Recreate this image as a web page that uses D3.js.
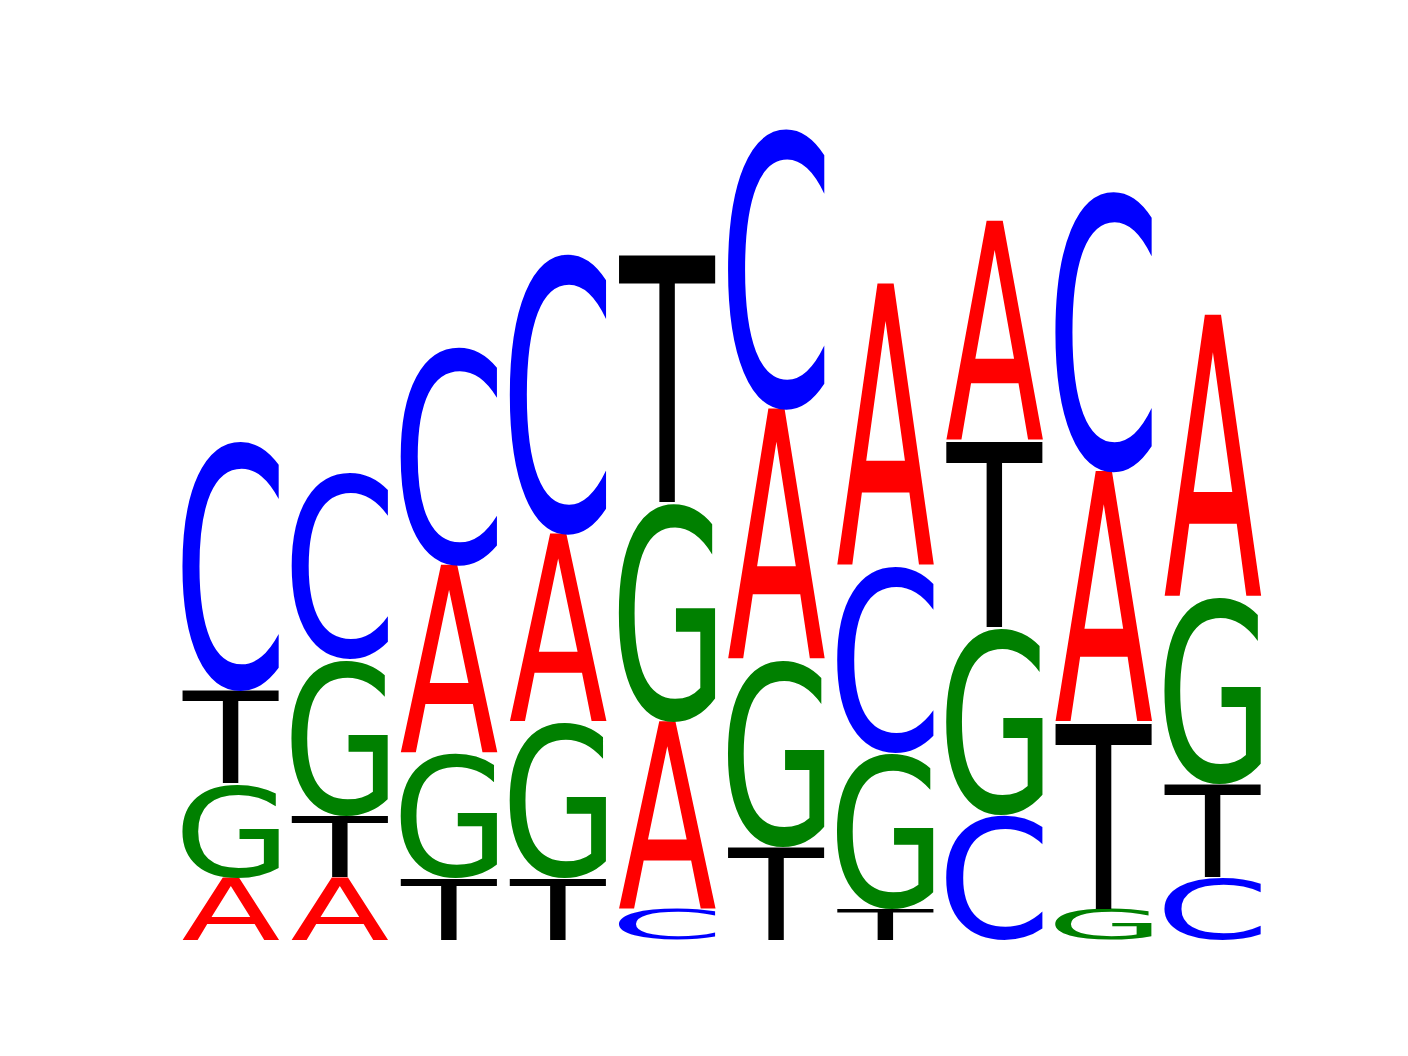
<!DOCTYPE html>
<html>
<head>
<meta charset="utf-8">
<script src="https://cdn.jsdelivr.net/npm/d3@7"></script>
<style>
  body { margin: 0; background: #fff; }
</style>
</head>
<body>
<div id="logo-container"></div>
<script>
// CONSTANTS
const WIDTH = 1408;
const HEIGHT = 1056;
const FONT = "DejaVu Sans";

// DATA (counts per position)
const positions = [1, 2, 3, 4, 5, 6, 7, 8, 9, 10];
const letters = ["A", "C", "G", "T"];
const countsA = [2, 2, 6, 6, 6, 8, 9, 7, 8, 9];
const countsC = [8, 6, 7, 9, 1, 9, 6, 4, 9, 2];
const countsG = [3, 5, 4, 5, 7, 6, 5, 6, 1, 6];
const countsT = [3, 2, 2, 2, 8, 3, 1, 6, 6, 3];
const letterColors = { A: "#ff0000", C: "#0000ff", G: "#008000", T: "#000000" };

const counts = { A: countsA, C: countsC, G: countsG, T: countsT };

// stack letters per position, smallest at the bottom
const stacks = positions.map((p, i) => {
  const col = letters.map(l => ({ letter: l, value: counts[l][i] }))
    .sort((a, b) => a.value - b.value);
  let y0 = 0;
  return col.map(d => {
    const item = { pos: p, letter: d.letter, y0: y0, y1: y0 + d.value };
    y0 += d.value;
    return item;
  });
}).flat();

const x = d3.scaleLinear().domain([0.5, 10.5]).range([176, 1267.2]);
const y = d3.scaleLinear().domain([0, 26]).range([939.8, 126.7]);

// ink bounds of each glyph, measured on a canvas
const ctx = document.createElement("canvas").getContext("2d");
ctx.font = `100px "${FONT}"`;
const glyphBox = {};
letters.forEach(l => {
  const m = ctx.measureText(l);
  glyphBox[l] = {
    left: -m.actualBoundingBoxLeft,
    right: m.actualBoundingBoxRight,
    top: -m.actualBoundingBoxAscent,
    bottom: m.actualBoundingBoxDescent
  };
});

const svg = d3.select("#logo-container")
  .append("svg")
  .attr("width", WIDTH)
  .attr("height", HEIGHT);

const letterWidth = 0.9;

svg.append("g")
  .selectAll("text")
  .data(stacks)
  .enter()
  .append("text")
  .text(d => d.letter)
  .attr("font-family", FONT)
  .attr("font-size", 100)
  .attr("fill", d => letterColors[d.letter])
  .attr("transform", d => {
    const b = glyphBox[d.letter];
    const x0 = x(d.pos - letterWidth / 2);
    const w = x(d.pos + letterWidth / 2) - x0;
    const yTop = y(d.y1);
    const h = y(d.y0) - yTop;
    const sx = w / (b.right - b.left);
    const sy = h / (b.bottom - b.top);
    return `translate(${x0},${yTop}) scale(${sx},${sy}) translate(${-b.left},${-b.top})`;
  });
</script>
</body>
</html>
